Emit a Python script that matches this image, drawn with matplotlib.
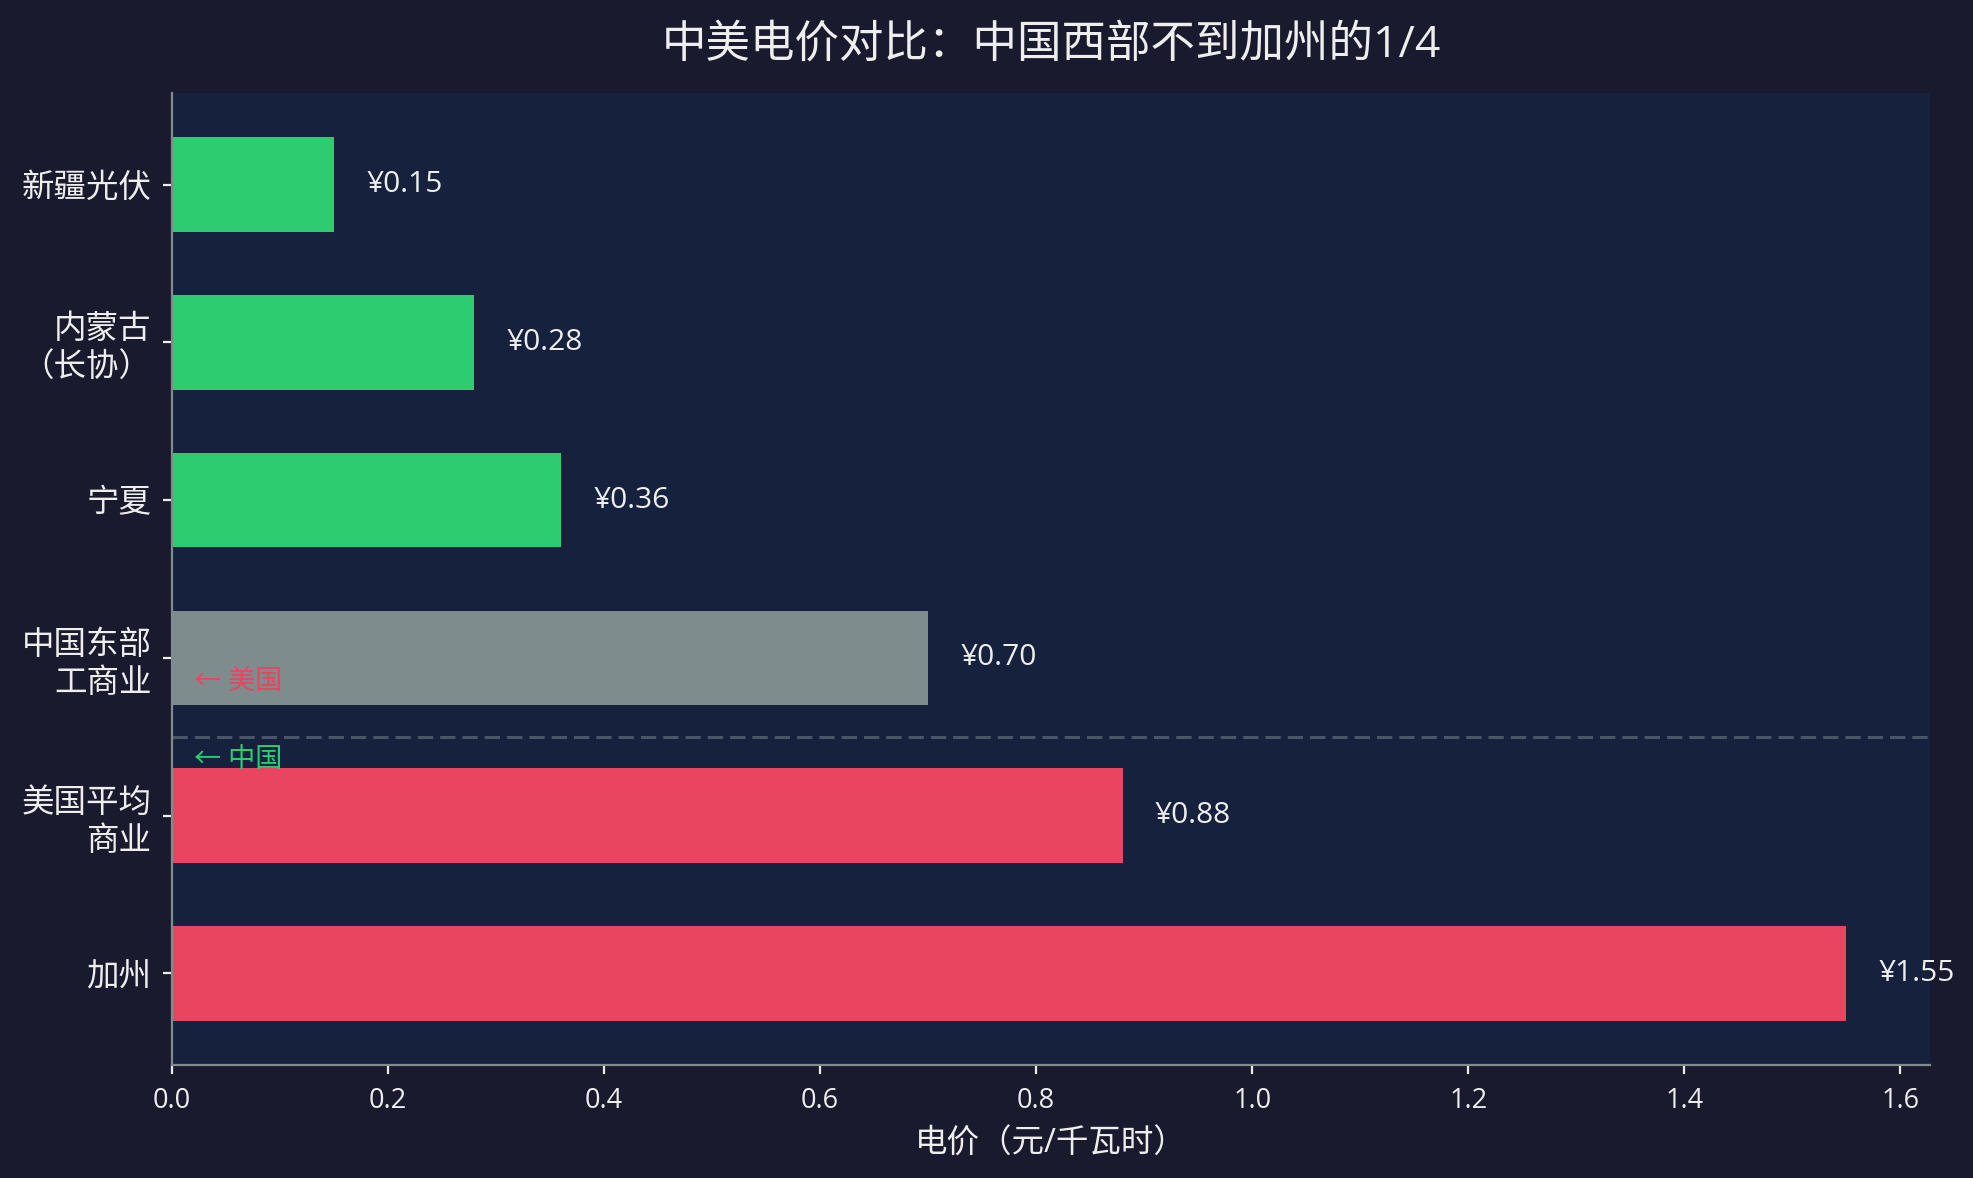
import matplotlib
matplotlib.use("Agg")
import matplotlib.pyplot as plt

plt.rcParams['font.family'] = ['Open Sans', 'Noto Sans CJK SC', 'DejaVu Sans']

categories = ["新疆光伏", "内蒙古\n（长协）", "宁夏", "中国东部\n工商业", "美国平均\n商业", "加州"]
prices = [0.15, 0.28, 0.36, 0.70, 0.88, 1.55]
bar_colors = ["#2ecc71", "#2ecc71", "#2ecc71", "#7f8c8d", "#e94560", "#e94560"]
value_labels = ["¥0.15", "¥0.28", "¥0.36", "¥0.70", "¥0.88", "¥1.55"]
title = "中美电价对比：中国西部不到加州的1/4"
xlabel = "电价（元/千瓦时）"

FIG_BG = "#1a1a2e"
AX_BG = "#16213e"
TXT = "#eeeeee"

fig = plt.figure(figsize=(19.74, 11.78), dpi=100, facecolor=FIG_BG)
ax = fig.add_axes([172/1974, 1-1065/1178, (1930-172)/1974, (1065-93)/1178])
ax.set_facecolor(AX_BG)

y = list(range(len(categories)))
ax.barh(y, prices, height=0.6, color=bar_colors)
ax.set_yticks(y)
ax.set_yticklabels(categories, fontsize=23.4, color=TXT)
ax.invert_yaxis()
ax.set_xlim(0, max(prices) * 1.05)

for yi, v, lab in zip(y, prices, value_labels):
    ax.text(v + 0.03, yi, lab, va="center", ha="left", fontsize=21.5, color=TXT)

ax.axhline(3.5, color="#7f8c8d", alpha=0.5, linewidth=2.2, dashes=(5, 2.3))
ax.text(0.02, 3.15, "← 美国", color="#e94560", fontsize=19.5, va="center", ha="left")
ax.text(0.02, 3.65, "← 中国", color="#2ecc71", fontsize=19.5, va="center", ha="left")

ax.set_title(title, fontsize=32, color=TXT, pad=26)
ax.set_xlabel(xlabel, fontsize=23.4, color=TXT, labelpad=9)

for s in ["top", "right"]:
    ax.spines[s].set_visible(False)
for s in ["left", "bottom"]:
    ax.spines[s].set_color("#7f8c8d")
    ax.spines[s].set_linewidth(1.6)
ax.tick_params(axis="x", colors=TXT, labelsize=19.5, length=6.8, width=1.6, pad=9)
ax.tick_params(axis="y", colors=TXT, length=6.8, width=1.6, pad=8)

fig.savefig("out.png", dpi=100, facecolor=FIG_BG)
